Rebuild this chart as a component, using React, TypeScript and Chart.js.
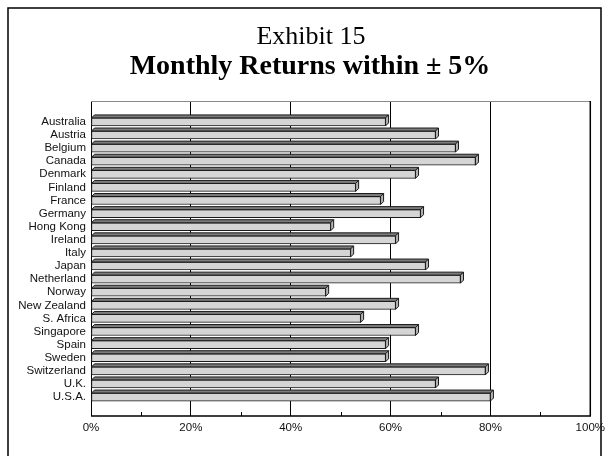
import { useEffect, useRef } from "react";
import { Chart, registerables } from "chart.js";

Chart.register(...registerables);

// Share of monthly returns that fell within ±5%, by market
const countries = [
  "Australia",
  "Austria",
  "Belgium",
  "Canada",
  "Denmark",
  "Finland",
  "France",
  "Germany",
  "Hong Kong",
  "Ireland",
  "Italy",
  "Japan",
  "Netherland",
  "Norway",
  "New Zealand",
  "S. Africa",
  "Singapore",
  "Spain",
  "Sweden",
  "Switzerland",
  "U.K.",
  "U.S.A.",
];
const withinFivePct = [
  59, 69, 73, 77, 65, 53, 58, 66, 48, 61, 52, 67, 74, 47, 61, 54, 65, 59, 59, 79, 69, 80,
];
const majorTicks = [0, 20, 40, 60, 80, 100];
const minorTicks = [10, 30, 50, 70, 90];

const titleLine = "Exhibit 15";
const subtitleLine = "Monthly Returns within \u00b1 5%";

const SANS = 'Arial, "Liberation Sans", Helvetica, sans-serif';
const SERIF = '"Times New Roman", "Liberation Serif", serif';
const DEPTH = 3;

// Page frame, titles, plot border and small axis ticks
const decorPlugin = {
  id: "decor",
  beforeDraw(chart: Chart) {
    const ctx = chart.ctx;
    ctx.save();
    ctx.fillStyle = "#ffffff";
    ctx.fillRect(0, 0, chart.width, chart.height);
    ctx.strokeStyle = "#000";
    ctx.lineWidth = 1.5;
    ctx.beginPath();
    ctx.moveTo(8, chart.height + 2);
    ctx.lineTo(8, 8);
    ctx.lineTo(601, 8);
    ctx.lineTo(601, chart.height + 2);
    ctx.stroke();

    ctx.fillStyle = "#000";
    ctx.textAlign = "center";
    ctx.textBaseline = "alphabetic";
    ctx.font = `26px ${SERIF}`;
    ctx.fillText(titleLine, 311, 44);
    ctx.font = `bold 28px ${SERIF}`;
    ctx.fillText(subtitleLine, 310, 74);
    ctx.restore();
  },
  beforeDatasetsDraw(chart: Chart) {
    const { ctx, chartArea } = chart;
    const ys = chart.scales.y;
    ctx.save();
    // short marks at each category along the left edge
    ctx.strokeStyle = "#444";
    ctx.lineWidth = 1.5;
    countries.forEach((_, i) => {
      const y = Math.round(ys.getPixelForValue(i)) + 1.5;
      ctx.beginPath();
      ctx.moveTo(chartArea.left, y);
      ctx.lineTo(chartArea.left + 7, y);
      ctx.stroke();
    });
    ctx.restore();
  },
  afterDatasetsDraw(chart: Chart) {
    const { ctx, chartArea } = chart;
    const xs = chart.scales.x;
    const meta = chart.getDatasetMeta(0);
    ctx.save();
    ctx.lineWidth = 1;
    ctx.strokeStyle = "#1a1a1a";
    meta.data.forEach((el: any) => {
      const { x, y, base, height } = el.getProps(["x", "y", "base", "height"], true);
      const top = y - height / 2;
      const bottom = y + height / 2;
      // upper face
      ctx.beginPath();
      ctx.moveTo(base, top);
      ctx.lineTo(base + DEPTH, top - DEPTH);
      ctx.lineTo(x + DEPTH, top - DEPTH);
      ctx.lineTo(x, top);
      ctx.closePath();
      ctx.fillStyle = "#7c7c7c";
      ctx.fill();
      ctx.stroke();
      // end face
      ctx.beginPath();
      ctx.moveTo(x, top);
      ctx.lineTo(x + DEPTH, top - DEPTH);
      ctx.lineTo(x + DEPTH, bottom - DEPTH);
      ctx.lineTo(x, bottom);
      ctx.closePath();
      ctx.fillStyle = "#b4b4b4";
      ctx.fill();
      ctx.stroke();
    });

    // plot border
    ctx.lineWidth = 1;
    ctx.strokeStyle = "#8a8a8a";
    ctx.beginPath();
    ctx.moveTo(chartArea.left, chartArea.top + 0.5);
    ctx.lineTo(chartArea.right, chartArea.top + 0.5);
    ctx.stroke();
    ctx.strokeStyle = "#000";
    ctx.lineWidth = 1.5;
    ctx.beginPath();
    ctx.moveTo(chartArea.left, chartArea.bottom);
    ctx.lineTo(chartArea.right + 0.75, chartArea.bottom);
    ctx.moveTo(chartArea.right, chartArea.top);
    ctx.lineTo(chartArea.right, chartArea.bottom);
    ctx.stroke();
    // minor ticks pointing into the plot
    ctx.lineWidth = 1;
    minorTicks.forEach((v) => {
      const px = Math.round(xs.getPixelForValue(v)) + 0.5;
      ctx.beginPath();
      ctx.moveTo(px, chartArea.bottom);
      ctx.lineTo(px, chartArea.bottom - 4);
      ctx.stroke();
    });
    ctx.restore();
  },
};

export default function App() {
  const canvasRef = useRef<HTMLCanvasElement | null>(null);

  useEffect(() => {
    const canvas = canvasRef.current;
    if (!canvas) return;
    const chart = new Chart(canvas, {
      type: "bar",
      data: {
        datasets: [
          {
            data: withinFivePct.map((v, i) => ({ x: v, y: i })),
            backgroundColor: "#d5d5d5",
            borderColor: "#1a1a1a",
            borderWidth: 1,
            borderSkipped: false,
            barThickness: 8,
          },
        ],
      },
      options: {
        indexAxis: "y",
        animation: false,
        responsive: false,
        events: [],
        layout: { padding: { top: 101, left: 0, right: 17, bottom: 0 } },
        plugins: {
          legend: { display: false },
          title: { display: false },
          tooltip: { enabled: false },
        },
        scales: {
          x: {
            type: "linear",
            position: "bottom",
            min: 0,
            max: 100,
            afterBuildTicks: (scale: any) => {
              scale.ticks = majorTicks.map((v) => ({ value: v }));
            },
            afterFit: (scale: any) => {
              scale.height = 40;
            },
            ticks: {
              callback: (v: any) => `${v}%`,
              font: { family: SANS, size: 11.5 },
              color: "#111",
              padding: 5,
              maxRotation: 0,
            },
            grid: { color: "#000", lineWidth: 1, drawTicks: false },
            border: { display: false },
          },
          y: {
            type: "linear",
            position: "left",
            reverse: true,
            min: -1.05,
            max: 21.9,
            afterBuildTicks: (scale: any) => {
              scale.ticks = countries.map((_, i) => ({ value: i }));
            },
            afterFit: (scale: any) => {
              scale.width = 91;
            },
            ticks: {
              callback: (v: any) => countries[v] ?? "",
              font: { family: SANS, size: 11.5 },
              color: "#111",
              padding: 5,
              autoSkip: false,
            },
            grid: { display: false, drawTicks: false },
            border: { display: false },
          },
        },
      },
      plugins: [decorPlugin],
    });
    return () => chart.destroy();
  }, []);

  return (
    <div style={{ position: "absolute", left: 0, top: 0, width: 610, height: 456 }}>
      <canvas ref={canvasRef} width={610} height={456} style={{ display: "block" }} />
    </div>
  );
}
